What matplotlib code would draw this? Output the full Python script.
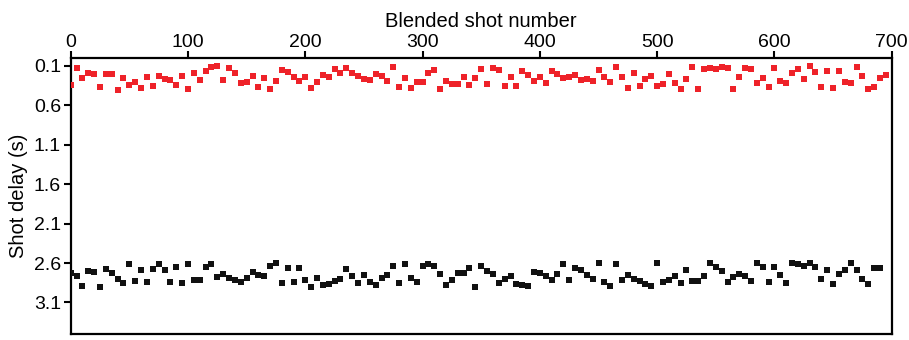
import numpy as np
import matplotlib.pyplot as plt

plt.rcParams['font.family'] = ['Liberation Sans', 'DejaVu Sans']

# shot numbers (every 5th blended shot)
shots_a = np.arange(0, 700, 5)
shots_b = np.arange(0, 695, 5)

# delays of source A (s)
delay_a = [
    0.341, 0.125, 0.256, 0.189, 0.201, 0.371, 0.201, 0.201, 0.405, 0.256,
    0.341, 0.303, 0.380, 0.240, 0.354, 0.227, 0.265, 0.278, 0.341, 0.227,
    0.392, 0.189, 0.278, 0.164, 0.113, 0.100, 0.278, 0.125, 0.189, 0.316,
    0.303, 0.227, 0.367, 0.252, 0.392, 0.290, 0.151, 0.176, 0.240, 0.290,
    0.240, 0.380, 0.303, 0.214, 0.240, 0.138, 0.189, 0.125, 0.189, 0.227,
    0.265, 0.278, 0.201, 0.227, 0.290, 0.113, 0.367, 0.252, 0.380, 0.303,
    0.303, 0.189, 0.151, 0.392, 0.290, 0.329, 0.329, 0.240, 0.341, 0.252,
    0.138, 0.329, 0.125, 0.151, 0.354, 0.240, 0.354, 0.164, 0.214, 0.290,
    0.240, 0.316, 0.164, 0.201, 0.252, 0.240, 0.214, 0.278, 0.265, 0.290,
    0.151, 0.240, 0.303, 0.113, 0.240, 0.380, 0.189, 0.354, 0.265, 0.227,
    0.354, 0.329, 0.201, 0.316, 0.392, 0.265, 0.113, 0.392, 0.138, 0.125,
    0.138, 0.113, 0.125, 0.392, 0.240, 0.125, 0.138, 0.316, 0.252, 0.367,
    0.125, 0.290, 0.316, 0.189, 0.138, 0.265, 0.100, 0.176, 0.367, 0.164,
    0.380, 0.164, 0.303, 0.316, 0.113, 0.227, 0.392, 0.367, 0.252, 0.214,
]

# delays of source B (s)
delay_b = [
    2.728, 2.758, 2.887, 2.707, 2.716, 2.900, 2.681, 2.728, 2.801, 2.857,
    2.608, 2.823, 2.694, 2.835, 2.673, 2.608, 2.694, 2.835, 2.651, 2.848,
    2.617, 2.810, 2.810, 2.651, 2.617, 2.780, 2.737, 2.788, 2.814, 2.844,
    2.788, 2.716, 2.750, 2.758, 2.639, 2.604, 2.857, 2.664, 2.844, 2.664,
    2.810, 2.900, 2.792, 2.878, 2.865, 2.823, 2.801, 2.681, 2.767, 2.857,
    2.750, 2.844, 2.878, 2.792, 2.750, 2.639, 2.857, 2.617, 2.792, 2.844,
    2.639, 2.617, 2.639, 2.741, 2.878, 2.810, 2.720, 2.728, 2.664, 2.900,
    2.639, 2.699, 2.741, 2.848, 2.801, 2.758, 2.870, 2.878, 2.887, 2.711,
    2.728, 2.758, 2.810, 2.733, 2.617, 2.810, 2.660, 2.694, 2.750, 2.801,
    2.604, 2.835, 2.895, 2.613, 2.810, 2.750, 2.801, 2.827, 2.865, 2.887,
    2.600, 2.835, 2.810, 2.767, 2.857, 2.689, 2.827, 2.823, 2.758, 2.604,
    2.651, 2.707, 2.844, 2.780, 2.741, 2.758, 2.823, 2.600, 2.651, 2.844,
    2.651, 2.750, 2.857, 2.596, 2.617, 2.639, 2.604, 2.651, 2.797, 2.685,
    2.870, 2.737, 2.694, 2.600, 2.694, 2.801, 2.870, 2.664, 2.664,
]

yticks = [0.1, 0.6, 1.1, 1.6, 2.1, 2.6, 3.1]

fig = plt.figure(figsize=(9.09, 3.4), dpi=100)
ax = fig.add_axes([0.0778, 0.0176, 0.9032, 0.8118])

ax.scatter(shots_a, delay_a, marker='s', s=20, color='#ee2229', linewidths=0, zorder=3)
ax.scatter(shots_b, delay_b, marker='s', s=16, color='#111111', linewidths=0, zorder=3)

ax.set_xlim(0, 700)
ax.set_ylim(3.5, 0.0)
ax.set_yticks(yticks)
ax.set_yticklabels([f'{v:.1f}' for v in yticks])
ax.set_xticks(np.arange(0, 701, 100))

ax.xaxis.set_ticks_position('top')
ax.xaxis.set_label_position('top')
ax.tick_params(axis='both', direction='out', length=5, width=1.5, labelsize=14, colors='black')
ax.tick_params(axis='x', pad=0)
ax.tick_params(axis='y', pad=2)

for sp in ax.spines.values():
    sp.set_linewidth(1.6)

ax.set_xlabel('Blended shot number', fontsize=14.5, labelpad=5)
ax.set_ylabel('Shot delay (s)', fontsize=14.5, labelpad=4)

fig.savefig('out.png', dpi=100)
